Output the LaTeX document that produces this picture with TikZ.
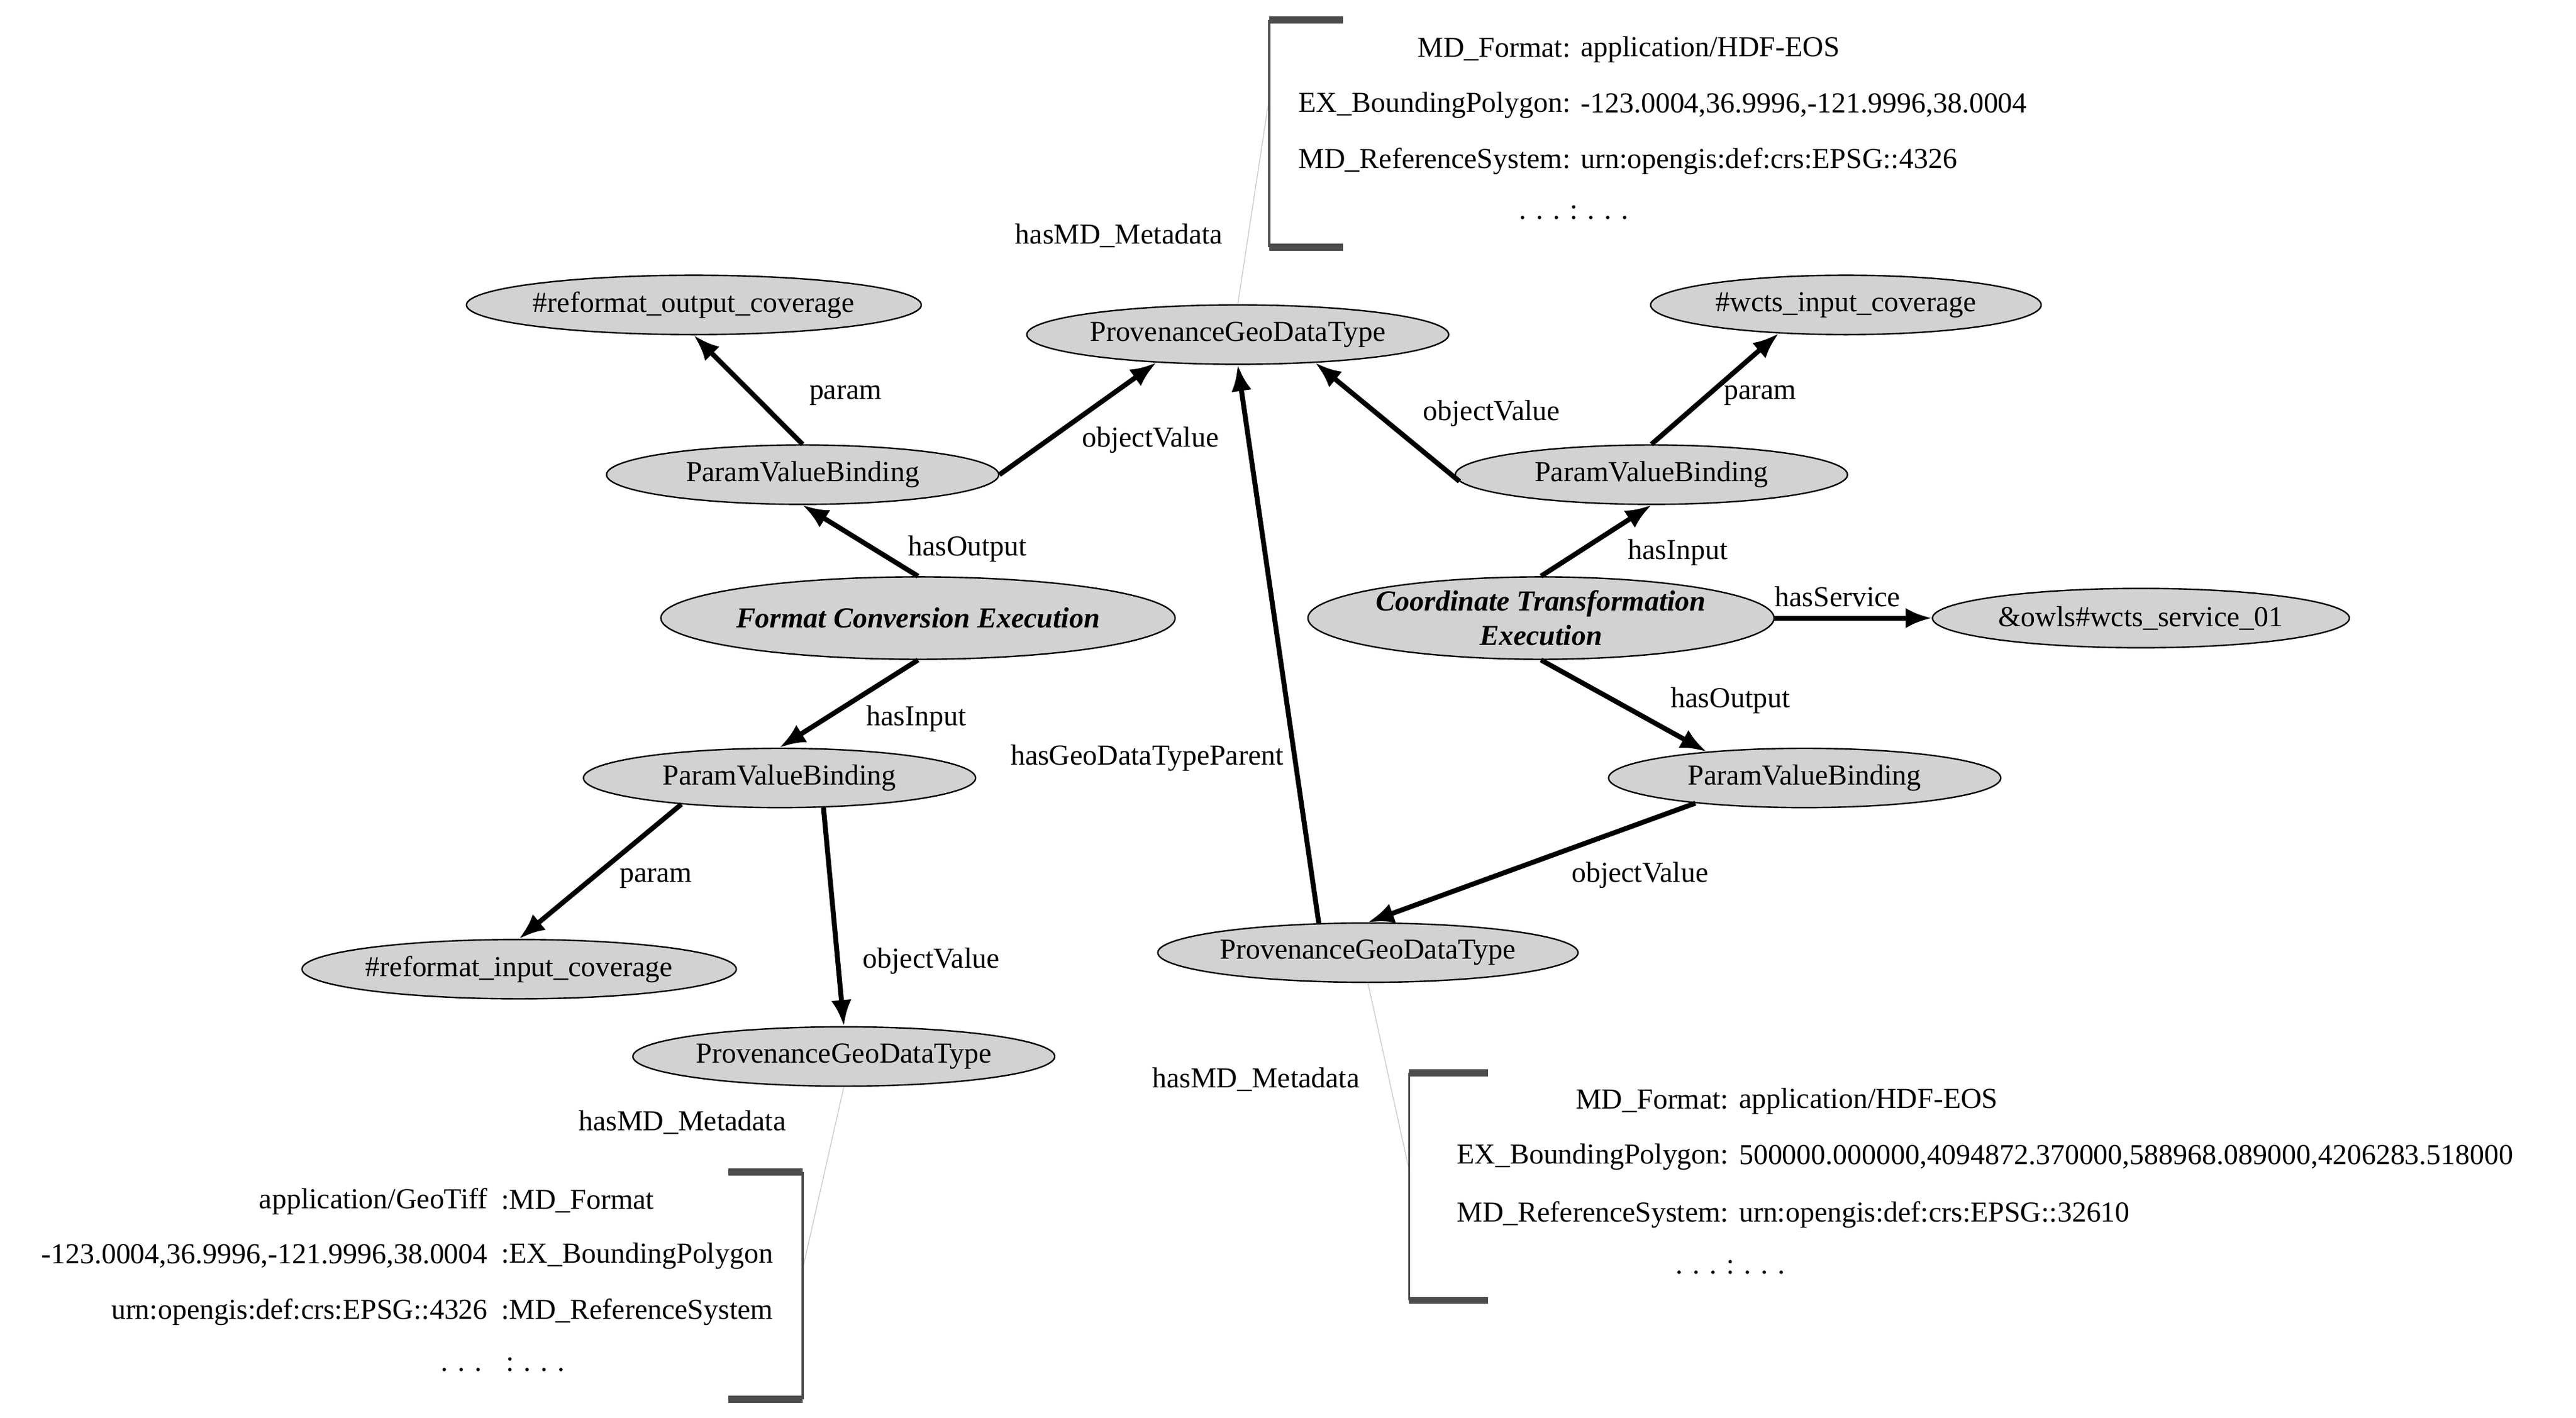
\documentclass[tikz,border=0pt]{standalone}
\usepackage{fontspec}
\setmainfont{Liberation Serif}
\usetikzlibrary{shapes.geometric,arrows.meta}
\begin{document}
\begin{tikzpicture}[x=0.02cm,y=-0.02cm,font=\fontsize{10}{12}\selectfont,
  el/.style={ellipse,draw=black,fill=gray!35,line width=0.5pt,minimum height=0.72cm,inner sep=0pt},
  ex/.style={el,minimum height=1cm,font=\fontsize{10}{12}\selectfont\bfseries\itshape,align=center},
  rel/.style={line width=1.7pt,-{Latex[length=9pt,width=7pt]}},
  md/.style={gray!40,line width=0.3pt},
  br/.style={line width=0.8pt,black!70},
  bar/.style={gray!60!black,line width=2.5pt},
  lb/.style={inner sep=1pt}]
\useasboundingbox (0,0) rectangle (1563,860);
% nodes
\node[el,minimum width=4.76cm] (rout) at (421,185) {\#reformat\_output\_coverage};
\node[el,minimum width=5.12cm] (pgdt) at (751,203) {ProvenanceGeoDataType};
\node[el,minimum width=4.74cm] (wcts) at (1120,185) {\#wcts\_input\_coverage};
\node[el,minimum width=4.76cm] (pvb1) at (487,288) {ParamValueBinding};
\node[el,minimum width=4.76cm] (pvbrt) at (1002,288) {ParamValueBinding};
\node[ex,minimum width=5.44cm] (fce) at (557,375) {Format Conversion Execution};
\node[ex,minimum width=5.28cm] (cte) at (935,375) {Coordinate Transformation\\Execution};
\node[el,minimum width=5.06cm] (owls) at (1299,375) {\&owls\#wcts\_service\_01};
\node[el,minimum width=4.76cm] (pvblb) at (473,472) {ParamValueBinding};
\node[el,minimum width=4.76cm] (pvbrb) at (1095,472) {ParamValueBinding};
\node[el,minimum width=5.1cm] (pgdtrb) at (830,578) {ProvenanceGeoDataType};
\node[el,minimum width=4.72cm] (rin) at (315,588) {\#reformat\_input\_coverage};
\node[el,minimum width=5.12cm] (pgdtlb) at (512,641) {ProvenanceGeoDataType};
% edges
\draw[rel] (pvb1.north) -- (rout.south);
\draw[rel] (pvb1.east) -- (pgdt.-161);
\draw[rel] (fce.north) -- (pvb1.south);
\draw[rel] (fce.south) -- (pvblb.north);
\draw[rel] (pvblb.-165) -- (rin.north);
\draw[rel] (pvblb.-34) -- (pgdtlb.north);
\draw[rel] (cte.north) -- (pvbrt.south);
\draw[rel] (pvbrt.north) -- (wcts.-157);
\draw[rel] (pvbrt.-178) -- (pgdt.-20);
\draw[rel] (cte.east) -- (owls.west);
\draw[rel] (cte.south) -- (pvbrb.165);
\draw[rel] (pvbrb.-167) -- (pgdtrb.north);
\draw[rel] (pgdtrb.149) -- (pgdt.south);
% edge labels
\node[lb] (l1) at (513,240) {param};
\node[lb] (l2) at (698,267) {objectValue};
\node[lb] (l3) at (587,333) {hasOutput};
\node[lb] (l4) at (556,436) {hasInput};
\node[lb] (l5) at (398,533) {param};
\node[lb] (l6) at (565,583) {objectValue};
\node[lb] (l7) at (1018,335) {hasInput};
\node[lb] (l8) at (1068,240) {param};
\node[lb] (l9) at (905,251) {objectValue};
\node[lb] (l10) at (1115,362) {hasService};
\node[lb] (l11) at (1050,425) {hasOutput};
\node[lb] (l12) at (995,531) {objectValue};
\node[lb] (l13) at (696,460) {hasGeoDataTypeParent};
\node[lb] (m1) at (679,143) {hasMD\_Metadata};
\node[lb] (m2) at (414,681) {hasMD\_Metadata};
\node[lb] (m3) at (762,655) {hasMD\_Metadata};
% metadata brackets
\coordinate (b1) at (770,60);
\coordinate (b2) at (487,770);
\coordinate (b3) at (855,710);
\draw[md] (pgdt.north) -- (b1);
\draw[md] (pgdtlb.south) -- (b2);
\draw[md] (pgdtrb.south) -- (b3);
% top bracket
\draw[br] (770,12) -- (770,150);
\draw[bar] (770,12) -- (815,12);
\draw[bar] (770,150) -- (815,150);
\node[lb,anchor=east] (t1a) at (955,30) {MD\_Format:};
\node[lb,anchor=west] (t1b) at (957,30) {application/HDF-EOS};
\node[lb,anchor=east] (t2a) at (955,64) {EX\_BoundingPolygon:};
\node[lb,anchor=west] (t2b) at (957,64) {-123.0004,36.9996,-121.9996,38.0004};
\node[lb,anchor=east] (t3a) at (955,98) {MD\_ReferenceSystem:};
\node[lb,anchor=west] (t3b) at (957,98) {urn:opengis:def:crs:EPSG::4326};
\node[lb] (t4) at (955,129) {. . . : . . .};
% right bottom bracket
\draw[br] (855,651) -- (855,789);
\draw[bar] (855,651) -- (903,651);
\draw[bar] (855,789) -- (903,789);
\node[lb,anchor=east] (r1a) at (1051,668) {MD\_Format:};
\node[lb,anchor=west] (r1b) at (1053,668) {application/HDF-EOS};
\node[lb,anchor=east] (r2a) at (1051,702) {EX\_BoundingPolygon:};
\node[lb,anchor=west] (r2b) at (1053,702) {500000.000000,4094872.370000,588968.089000,4206283.518000};
\node[lb,anchor=east] (r3a) at (1051,737) {MD\_ReferenceSystem:};
\node[lb,anchor=west] (r3b) at (1053,737) {urn:opengis:def:crs:EPSG::32610};
\node[lb] (r4) at (1050,769) {. . . : . . .};
% left bottom bracket
\draw[br] (487,711) -- (487,849);
\draw[bar] (442,711) -- (487,711);
\draw[bar] (442,849) -- (487,849);
\node[lb,anchor=east] (q1a) at (298,729) {application/GeoTiff};
\node[lb,anchor=west] (q1b) at (302,729) {:MD\_Format};
\node[lb,anchor=east] (q2a) at (298,762) {-123.0004,36.9996,-121.9996,38.0004};
\node[lb,anchor=west] (q2b) at (302,762) {:EX\_BoundingPolygon};
\node[lb,anchor=east] (q3a) at (298,796) {urn:opengis:def:crs:EPSG::4326};
\node[lb,anchor=west] (q3b) at (302,796) {:MD\_ReferenceSystem};
\node[lb] (q4) at (305,828) {. . . \ \ : . . .};
\end{tikzpicture}
\end{document}
